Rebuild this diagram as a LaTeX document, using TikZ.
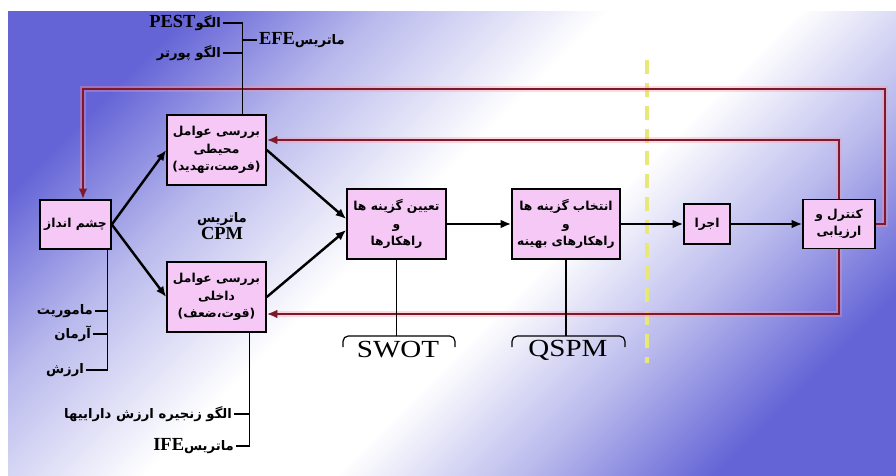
\documentclass[tikz,border=0pt]{standalone}
\usepackage{fontspec}
\newfontfamily\fafont[Script=Arabic]{DejaVu Sans}
\newfontfamily\enfont{Liberation Serif}
\TeXXeTstate=1
\usetikzlibrary{arrows.meta,calc}
\definecolor{boxpink}{RGB}{246,200,246}
\definecolor{loopred}{RGB}{125,25,45}
\definecolor{glowpink}{RGB}{255,150,165}
\definecolor{bgblue}{RGB}{100,100,215}
\definecolor{dashyellow}{RGB}{232,232,120}
\pgfdeclareverticalshading{bgsweep}{100bp}{color(0bp)=(bgblue); color(24bp)=(bgblue);
  color(34bp)=(bgblue!45); color(44bp)=(white); color(54bp)=(white);
  color(66bp)=(bgblue!45); color(76bp)=(bgblue); color(100bp)=(bgblue)}
\newcommand{\fa}[1]{{\fafont\bfseries\beginR#1\endR}}
\newcommand{\en}[1]{\beginL{\enfont\bfseries\fontsize{10.5}{12}\selectfont #1}\endL{}}
\tikzset{
  stage/.style 2 args={draw, fill=boxpink, line width=0.9pt,
    minimum width=#1*0.02cm, minimum height=#2*0.02cm,
    inner sep=1pt, align=center, font=\fontsize{7}{10}\selectfont},
  tag/.style={inner sep=1pt, font=\fontsize{7.5}{9}\selectfont},
  tool/.style={font=\enfont\fontsize{14}{16}\selectfont},
  flow/.style={-{Latex[length=6pt,width=5pt]}, line width=1.4pt},
  feedback/.style={draw=loopred, line width=1.3pt,
    -{Latex[length=6pt,width=5pt]},
    preaction={draw=glowpink, line width=3pt, opacity=0.35}},
  stem/.style={line width=0.7pt},
}
\begin{document}
\begin{tikzpicture}[x=0.02cm, y=-0.02cm]
\useasboundingbox (0,0) rectangle (896,476);
% background
\shade[shading=bgsweep, shading angle=45] (8,12) rectangle (896,476);
\draw[dashyellow, line width=2pt, dash pattern=on 8pt off 5pt] (647,60) -- (647,363);

% stages
\node[stage={71}{49}] (vis) at (75.5,224.5) {\fa{چشم انداز}};
\node[stage={99}{70}] (env) at (216.5,150) {\fa{بررسی عوامل}\\ \fa{محیطی}\\ \fa{(فرصت،تهدید)}};
\node[stage={99}{70}] (int) at (216.5,297) {\fa{بررسی عوامل}\\ \fa{داخلی}\\ \fa{(قوت،ضعف)}};
\node[stage={99}{70}] (opt) at (396.5,224) {\fa{تعیین گزینه ها}\\ \fa{و}\\ \fa{راهکارها}};
\node[stage={108}{70}] (sel) at (566,224) {\fa{انتخاب گزینه ها}\\ \fa{و}\\ \fa{راهکارهای بهینه}};
\node[stage={46}{40}] (exe) at (707,224) {\fa{اجرا}};
\node[stage={72}{49}] (ctl) at (839,224) {\fa{کنترل و}\\ \fa{ارزیابی}};

% main flow
\draw[flow] (vis.east) -- (env.west);
\draw[flow] (vis.east) -- (int.west);
\draw[flow] (env.east) -- ([yshift=0.1cm]opt.west);
\draw[flow] (int.east) -- ([yshift=-0.12cm]opt.west);
\draw[flow] (opt.east) -- (sel.west);
\draw[flow] (sel.east) -- (exe.west);
\draw[flow] (exe.east) -- (ctl.west);

% feedback
\coordinate (outerR) at (885,89);
\coordinate (outerL) at (83,89);
\draw[feedback] (ctl.east) -| (outerR) -- (outerL) -- (outerL |- vis.north);
\draw[feedback] (ctl.north) |- ([yshift=0.2cm]env.east);
\draw[feedback] (ctl.south) |- ([yshift=-0.34cm]int.east);

% vision
\coordinate (vstem) at ([xshift=-0.08cm]vis.south east);
\node[tag, anchor=east] (mission) at (95,311) {\fa{ماموریت}};
\node[tag, anchor=east] (ideal) at (93,334) {\fa{آرمان}};
\node[tag, anchor=east] (worth) at (86,370) {\fa{ارزش}};
\draw[stem] (vstem) |- (worth.east);
\draw[stem] (vstem |- mission.east) -- (mission.east);
\draw[stem] (vstem |- ideal.east) -- (ideal.east);

% external tools
\coordinate (estem) at ([xshift=-0.48cm]env.north east);
\node[tag, anchor=east] (pest) at (223,23) {\fa{الگو\en{PEST}}};
\node[tag, anchor=east] (porter) at (223,53) {\fa{الگو پورتر}};
\node[tag, anchor=west] (efe) at (257,40) {\fa{ماتریس\en{EFE}}};
\draw[stem] (estem) |- (pest.east);
\draw[stem] (estem |- porter.east) -- (porter.east);
\draw[stem] (estem |- efe.west) -- (efe.west);

% internal tools
\coordinate (istem) at ([xshift=-0.34cm]int.south east);
\node[tag, anchor=east] (chain) at (234,414) {\fa{الگو زنجیره ارزش داراییها}};
\node[tag, anchor=east] (ife) at (236,446) {\fa{ماتریس\en{IFE}}};
\draw[stem] (istem) |- (ife.east);
\draw[stem] (istem |- chain.east) -- (chain.east);

\node[tag, align=center] (cpm) at (222,226) {\fa{ماتریس}\\[1pt] \en{CPM}};

% SWOT / QSPM
\coordinate (swotbar) at (398,336);
\coordinate (qspmbar) at (568,336);
\draw[stem, rounded corners=3pt] (343,347) -- (343,336) -- (455,336) -- (455,347);
\draw[stem, rounded corners=3pt] (512,347) -- (512,336) -- (625,336) -- (625,347);
\draw[stem] (opt.south) -- (opt.south |- swotbar);
\draw[stem] (sel.south) -- (sel.south |- qspmbar);
\node[tool] (swot) at (398,350) {\scalebox{1.18}[1]{SWOT}};
\node[tool] (qspm) at (568,350) {\scalebox{1.18}[1]{QSPM}};
\end{tikzpicture}
\end{document}
